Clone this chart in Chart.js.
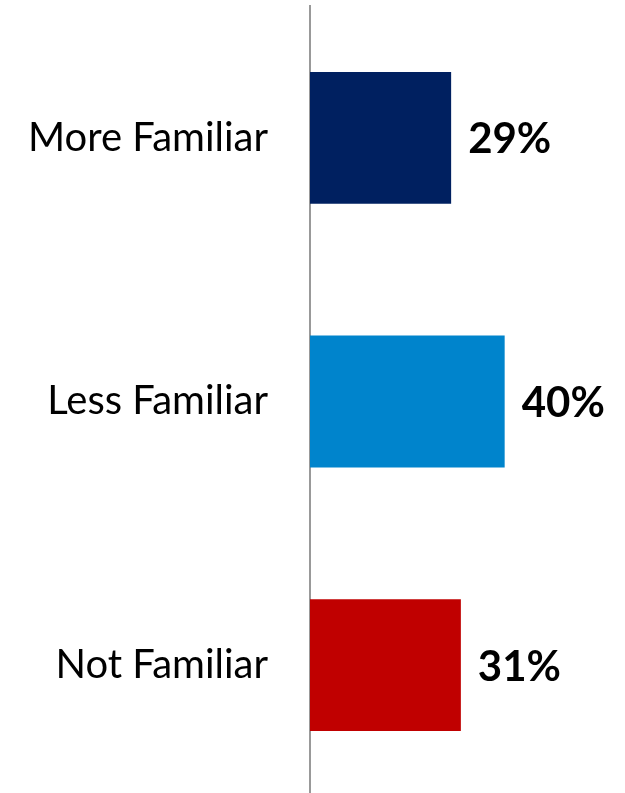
<!DOCTYPE html>
<html>
<head>
<meta charset="utf-8">
<script src="https://cdn.jsdelivr.net/npm/chart.js@4"></script>
<style>
    html, body { margin: 0; padding: 0; background: #fff; overflow: hidden; }
    #wrap { width: 625px; height: 800px; }
</style>
</head>
<body>
<div id="wrap"><canvas id="familiar-chart" width="625" height="800"></canvas></div>
<script>
// chart data
const categories = ["More Familiar", "Less Familiar", "Not Familiar"];
const shares = [29, 40, 31];
const barColors = ["#002060", "#0084CC", "#C00000"];

// draws the "29%" labels just past the end of each bar
const valueLabels = {
    id: "valueLabels",
    afterDatasetsDraw(chart) {
        const ctx = chart.ctx;
        const meta = chart.getDatasetMeta(0);
        ctx.save();
        ctx.font = "bold 42px Lato";
        ctx.fillStyle = "#000";
        ctx.textAlign = "left";
        ctx.textBaseline = "middle";
        meta.data.forEach((bar, i) => {
            ctx.fillText(shares[i] + "%", bar.x + 17, bar.y + 2);
        });
        ctx.restore();
    }
};

const ctx = document.getElementById("familiar-chart").getContext("2d");

new Chart(ctx, {
    type: "bar",
    data: {
        labels: categories,
        datasets: [{
            data: shares,
            backgroundColor: barColors,
            borderWidth: 0,
            barPercentage: 0.5,
            categoryPercentage: 1
        }]
    },
    options: {
        indexAxis: "y",
        responsive: false,
        animation: false,
        devicePixelRatio: 1,
        layout: {
            padding: { top: 6, bottom: 3, left: 0, right: 23 }
        },
        plugins: {
            legend: { display: false },
            tooltip: { enabled: false }
        },
        scales: {
            x: {
                display: false,
                min: 0,
                max: 60
            },
            y: {
                afterFit: (scale) => {
                    scale.width = 310;
                    // tick padding would otherwise push the plot down
                    scale.paddingTop = 0;
                    scale.paddingBottom = 0;
                },
                grid: { display: false, drawTicks: false },
                border: { display: true, color: "#999999", width: 2 },
                ticks: {
                    padding: 42,
                    color: "#000",
                    font: { family: "Lato", size: 40 }
                }
            }
        }
    },
    plugins: [valueLabels]
});
</script>
</body>
</html>
